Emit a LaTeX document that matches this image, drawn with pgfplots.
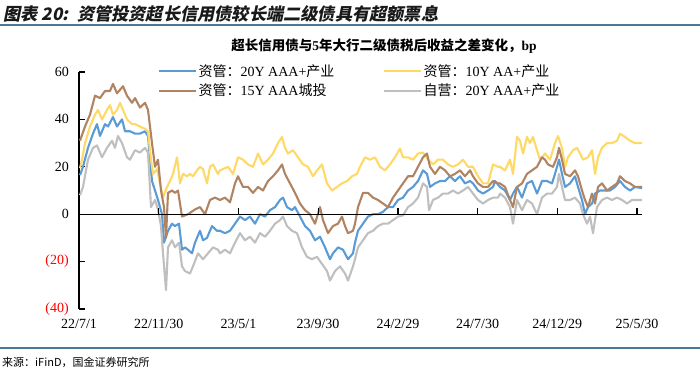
\documentclass[border=0pt]{standalone}
\usepackage{pgfplots}
\pgfplotsset{compat=1.18}
\usepackage{fontspec}
\setmainfont{Liberation Serif}
\newfontfamily\cjk{Noto Sans CJK SC}
\newfontfamily\cjktitle[FakeSlant=0.2]{Noto Sans CJK SC}
\definecolor{cblue}{RGB}{91,155,213}
\definecolor{cyellow}{RGB}{255,217,102}
\definecolor{cbrown}{RGB}{176,132,98}
\definecolor{cgray}{RGB}{191,191,191}
\definecolor{rulec}{RGB}{74,122,150}
\begin{document}
\begin{tikzpicture}[x=1pt,y=1pt]
\useasboundingbox (0,0) rectangle (700,374);
\node[anchor=west, inner sep=0pt, text=black!90] at (3,360) {\cjktitle\bfseries\fontsize{17.2}{19}\selectfont 图表 20:\enspace 资管投资超长信用债较长端二级债具有超额票息};
\draw[rulec, line width=1.5pt] (0,349) -- (700,349);
\node[inner sep=0pt] at (384,328) {\cjk\bfseries\fontsize{13.5}{15}\selectfont 超长信用债与{\rmfamily 5}年大行二级债税后收益之差变化，{\rmfamily bp}};
\draw[rulec, line width=1.2pt] (0,26) -- (700,26);
\node[anchor=west, inner sep=0pt] at (2,12) {\cjk\fontsize{11}{13}\selectfont 来源：iFinD，国金证券研究所};
\begin{axis}[
  at={(79pt,65pt)}, anchor=south west,
  scale only axis, width=563pt, height=237pt,
  xmin=0, xmax=563, ymin=-40, ymax=60,
  separate axis lines,
  axis y line*=left,
  axis x line*=bottom,
  x axis line style={draw=none},
  y axis line style={line width=1.5pt},
  xtick={0,79.7,159.4,239.1,318.9,398.6,478.3,558},
  xticklabels={22/7/1,22/11/30,23/5/1,23/9/30,24/2/29,24/7/30,24/12/29,25/5/30},
  xtick style={draw=none},
  ytick={-40,-20,0,20,40,60},
  yticklabels={\textcolor{red}{(40)},\textcolor{red}{(20)},0,20,40,60},
  ytick style={line width=1.2pt, black},
  tick align=inside,
  major tick length=6pt,
  ticklabel style={font=\fontsize{14}{16}\selectfont},
  yticklabel style={inner sep=0pt, xshift=-10pt},
  xticklabel style={inner sep=0pt, yshift=-10pt},
  clip=false,
  legend columns=2,
  legend cell align=left,
  legend image code/.code={\draw[#1] (0pt,0pt) -- (37pt,0pt);},
  legend style={draw=none, fill=none, at={(axis description cs:0.14,1.038)}, anchor=north west,
    font=\fontsize{14}{16}\selectfont, inner sep=0pt, row sep=3pt,
    nodes={inner sep=1.5pt},
    /tikz/every even column/.append style={column sep=47pt}},
  every axis plot/.append style={line width=2.1pt, line join=round},
]
\addplot[cblue] coordinates {(1,16.5)(4,20)(9,28)(14,34)(18,38)(21,33)(26,38)(29,37)(34,41)(38,37)(43,40)(46,35)(51,35)(56,34)(61,34)(66,35)(69,33)(73,14)(76,10)(79,6)(83,0)(85,-12)(89,-7)(93,-4)(96,-5)(100,-4)(103,-15)(106,-14)(109,-15)(113,-16.5)(116,-12)(121,-7)(124,-11)(128,-10)(133,-5)(138,-7)(141,-7)(146,-8)(151,-7)(156,-4)(161,-1)(166,-2.5)(171,-1)(176,-4)(181,0)(186,-1)(191,1.7)(196,3)(201,6)(204,7)(208,3)(213,1.7)(216,3)(221,-1)(226,-5)(231,-7)(236,-11)(241,-9.5)(246,-14)(251,-19)(254,-16.5)(259,-14)(264,-15)(269,-19)(274,-16.5)(276,-12)(279,-7)(284,-4)(289,-1)(294,0)(299,0)(304,1)(309,3)(314,3)(319,6)(324,7)(329,10)(334,11.5)(339,14)(344,18.5)(348,17)(351,11.5)(356,13)(361,14)(366,14)(371,16)(376,14)(381,16)(386,13)(391,14)(394,13)(399,10)(404,8.7)(409,10)(414,11.5)(416,14)(421,11.5)(426,10)(431,6)(434,8.7)(438,11.5)(443,7)(448,13)(453,14)(458,8.7)(463,14)(468,14)(473,13)(476,17)(480,23)(483,17)(486,11.5)(491,13)(496,16)(499,11.5)(503,6)(506,0)(509,3)(513,4.5)(516,8.7)(521,10)(526,10)(531,10)(536,11.5)(541,14)(546,11.5)(551,10)(556,11.5)(563,11)};
\addlegendentry{{\cjk 资管：}20Y AAA+{\cjk 产业}}
\addplot[cyellow] coordinates {(1,19.4)(3,23)(6,30)(11,37)(16,42)(19,44)(23,40)(28,44)(31,46)(34,42)(38,44)(41,47)(44,44)(48,40)(53,38)(56,38)(61,37)(66,36)(69,35)(72,23)(74,17)(78,19)(81,13)(84,7)(88,11.5)(91,14)(94,17)(98,24)(101,13)(104,17)(108,16)(111,17)(114,16)(118,18.5)(121,20)(124,19)(128,13)(131,20)(134,21)(139,17)(141,18.5)(149,20)(154,17)(159,24)(164,23)(169,21)(174,20)(179,25.6)(184,21)(189,23)(194,25.6)(199,30)(203,32.6)(206,28)(209,25.6)(214,27)(219,24)(224,21)(229,20)(234,16)(238,18.5)(243,21)(248,13)(253,10)(258,11.5)(263,13)(268,14)(273,16)(278,17)(281,20)(286,24)(291,23)(296,24)(301,20)(306,18.5)(311,21)(316,24)(321,27.7)(324,24)(329,24)(334,23)(339,25.6)(344,26)(349,23)(354,21)(359,23)(364,23)(369,21)(374,20)(379,21)(384,23)(389,20)(394,20)(399,16)(404,13)(409,13)(414,21)(419,20)(421,20)(426,18.5)(431,23)(434,17)(438,32.6)(441,31)(444,25.6)(448,32.6)(451,30)(454,32.6)(458,27)(461,23)(466,25.6)(471,23)(476,30)(479,33)(483,28)(486,20)(489,24)(494,27)(498,28)(501,25.6)(504,23)(509,24)(513,27)(516,17)(519,24)(523,28)(528,30)(533,30)(538,31)(541,34)(546,32.6)(551,31)(556,30)(563,30)};
\addlegendentry{{\cjk 资管：}10Y AA+{\cjk 产业}}
\addplot[cbrown] coordinates {(1,31)(6,37)(11,42)(16,50)(21,49)(26,52)(31,52)(34,55)(38,51)(44,54)(48,50)(53,47)(56,49)(61,45)(66,47)(69,44)(73,30)(76,20)(79,23)(82,10)(85,3)(87,-10)(89,9)(93,10)(96,9)(99,10)(103,-1)(109,0)(116,2)(121,3)(126,0)(131,6)(136,7)(141,6)(146,7)(151,5)(156,13)(159,16)(164,11.5)(169,11.5)(174,9)(179,11.5)(184,10)(189,14)(194,16)(199,18.5)(203,21)(206,17)(211,13)(216,9)(221,4.5)(226,1.7)(231,0)(236,-4)(241,3)(244,-2.5)(249,-8)(254,-5)(259,-4)(263,-1)(266,-5)(269,-8)(274,-7)(276,-4)(279,3)(284,9)(289,9)(294,7)(299,6)(304,4.5)(309,3)(314,7)(319,10)(324,13)(329,16)(334,16)(339,20)(344,24)(348,25.6)(351,20)(356,17)(361,20)(366,18.5)(371,16)(376,17)(381,18.5)(386,16)(391,18.5)(394,16)(399,13)(404,11.5)(409,11.5)(414,14)(419,13)(421,13)(426,11.5)(431,6)(434,3)(438,11.5)(443,13)(448,17)(453,18.5)(458,20)(463,24)(466,23)(469,21)(474,20)(478,24)(480,28)(483,23)(486,17)(491,16)(496,18.5)(499,16)(503,10)(506,6)(509,3)(513,8.7)(516,4.5)(519,11.5)(523,13)(528,10)(533,11.5)(538,13)(541,16)(546,14)(551,13)(556,11.5)(563,11.5)};
\addlegendentry{{\cjk 资管：}15Y AAA{\cjk 城投}}
\addplot[cgray] coordinates {(1,8)(4,11.5)(9,23)(14,28)(18,29)(23,24)(28,28)(33,31)(36,28)(39,33)(43,30)(48,24)(51,23)(56,27)(61,26)(66,28)(69,26)(72,3)(76,6)(79,2)(82,-5)(84,-16.5)(87,-32)(89,-14)(93,-11)(96,-14)(100,-12)(103,-22)(106,-24)(111,-25)(114,-22)(119,-16.5)(124,-19)(129,-16.5)(134,-14)(139,-15)(141,-16.5)(146,-15)(151,-16.5)(156,-12)(161,-8)(166,-11)(171,-9.5)(176,-12)(181,-8)(186,-9.5)(191,-7)(196,-4)(201,-2.5)(204,-1)(208,-5)(213,-7)(218,-8)(223,-14)(228,-18)(233,-19)(238,-18)(243,-21)(248,-24)(251,-28)(256,-24)(261,-22)(266,-25)(269,-28)(274,-22)(276,-19)(279,-14)(284,-11)(289,-8)(294,-7)(299,-5)(304,-4)(309,-4)(314,-2.5)(319,-1)(324,-0.5)(329,3)(334,4.5)(339,7)(344,13)(348,11.5)(350,1.7)(354,6)(359,7)(364,8.7)(369,8.7)(374,10)(379,8.7)(384,10)(389,11.5)(394,8.7)(399,6)(404,4.5)(409,6)(414,7)(419,7)(421,8.7)(426,7)(431,3)(434,-4)(438,6)(443,1.7)(448,6)(453,4.5)(458,0)(463,7)(468,8.7)(473,8.7)(478,11.5)(480,17)(483,11.5)(486,6)(491,6)(496,7)(501,4.5)(504,0)(508,-4)(511,-1)(514,-8)(518,3)(523,6)(528,7)(533,6)(538,7)(543,6)(548,4.5)(553,6)(558,6)(563,6)};
\addlegendentry{{\cjk 自营：}20Y AAA+{\cjk 产业}}
\draw[black, line width=1.2pt] (axis cs:0,0) -- (axis cs:563,0);
\draw[black, line width=1.2pt] (axis cs:79.7,0) -- ++(0pt,6pt);
\draw[black, line width=1.2pt] (axis cs:159.4,0) -- ++(0pt,6pt);
\draw[black, line width=1.2pt] (axis cs:239.1,0) -- ++(0pt,6pt);
\draw[black, line width=1.2pt] (axis cs:318.9,0) -- ++(0pt,6pt);
\draw[black, line width=1.2pt] (axis cs:398.6,0) -- ++(0pt,6pt);
\draw[black, line width=1.2pt] (axis cs:478.3,0) -- ++(0pt,6pt);
\draw[black, line width=1.2pt] (axis cs:558,0) -- ++(0pt,6pt);
\end{axis}
\end{tikzpicture}
\end{document}
